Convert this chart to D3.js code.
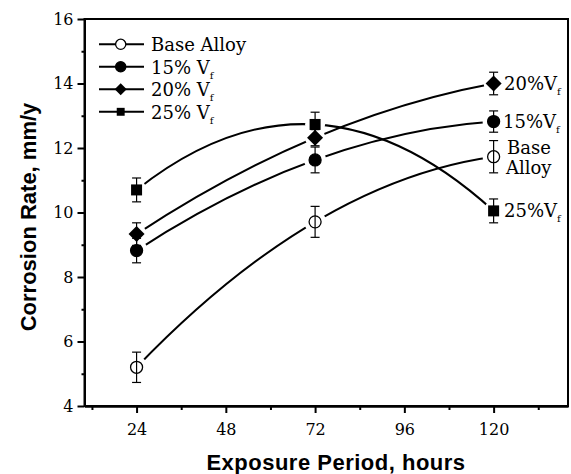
<!DOCTYPE html>
<html>
<head>
<meta charset="utf-8">
<script src="https://cdn.jsdelivr.net/npm/d3@7"></script>
<style>
  body { margin: 0; background: #fff; }
  svg { display: block; }
</style>
</head>
<body>
<svg id="chart" width="571" height="474"></svg>
<script>
// ---- data ----
const hours = [24, 72, 120];
const seriesNames = ["Base Alloy", "15% V", "20% V", "25% V"];
const endLabels = ["Base Alloy", "15%V", "20%V", "25%V"];
const baseAlloy = [5.2, 9.71, 11.73];
const baseAlloyErr = [0.47, 0.48, 0.5];
const vf15 = [8.82, 11.63, 12.82];
const vf15Err = [0.38, 0.4, 0.33];
const vf20 = [9.33, 12.32, 14.0];
const vf20Err = [0.35, 0.25, 0.35];
const vf25 = [10.7, 12.73, 10.05];
const vf25Err = [0.37, 0.38, 0.37];
const xMajorTicks = [24, 48, 72, 96, 120];
const xMinorTicks = [12, 36, 60, 84, 108, 132];
const yMajorTicks = [4, 6, 8, 10, 12, 14, 16];
const yMinorTicks = [5, 7, 9, 11, 13, 15];

const markerTypes = ["openCircle", "circle", "diamond", "square"];
const seriesValues = [baseAlloy, vf15, vf20, vf25];
const seriesErrs = [baseAlloyErr, vf15Err, vf20Err, vf25Err];

const svg = d3.select("#chart");
const x = d3.scaleLinear().domain([10, 140]).range([84.5, 568]);
const y = d3.scaleLinear().domain([4, 16]).range([406, 19]);

const serif = "'DejaVu Serif', serif";
const sans = "'Liberation Sans', Arial, sans-serif";

// quadratic (parabolic) curve through three points
function quadCurve(context) {
  let pts = [];
  return {
    areaStart() {}, areaEnd() {},
    lineStart() { pts = []; },
    point(px, py) { pts.push([+px, +py]); },
    lineEnd() {
      if (pts.length === 3) {
        const [p0, p1, p2] = pts;
        context.moveTo(p0[0], p0[1]);
        context.quadraticCurveTo(2 * p1[0] - (p0[0] + p2[0]) / 2,
                                 2 * p1[1] - (p0[1] + p2[1]) / 2, p2[0], p2[1]);
      } else {
        pts.forEach((p, i) => i ? context.lineTo(p[0], p[1]) : context.moveTo(p[0], p[1]));
      }
    }
  };
}

function drawMarker(g, type, cx, cy, s) {
  if (type === "openCircle" || type === "circle") {
    g.append("circle").attr("cx", cx).attr("cy", cy).attr("r", 6 * s)
      .attr("fill", type === "circle" ? "#000" : "#fff")
      .attr("stroke", "#000").attr("stroke-width", 1.3);
  } else if (type === "square") {
    const h = 5.5 * s;
    g.append("rect").attr("x", cx - h).attr("y", cy - h).attr("width", 2 * h).attr("height", 2 * h)
      .attr("fill", "#000");
  } else if (type === "diamond") {
    const h = 8 * s;
    g.append("path").attr("d", `M${cx},${cy - h}L${cx + h},${cy}L${cx},${cy + h}L${cx - h},${cy}Z`)
      .attr("fill", "#000");
  }
}

// ---- box ----
svg.append("rect").attr("x", x(10)).attr("y", y(16))
  .attr("width", x(140) - x(10)).attr("height", y(4) - y(16))
  .attr("fill", "none").attr("stroke", "#000").attr("stroke-width", 2);

// ---- axes ----
function styleAxis(g) {
  g.select(".domain").attr("stroke-width", 2);
  g.selectAll(".tick line").attr("stroke-width", 2);
  g.selectAll(".tick text").attr("font-family", serif).attr("font-size", 16).attr("fill", "#000");
}
svg.append("g").attr("transform", `translate(0,${y(4)})`)
  .call(d3.axisBottom(x).tickValues(xMinorTicks).tickSize(4).tickSizeOuter(0).tickFormat(""))
  .call(styleAxis);
svg.append("g").attr("transform", `translate(0,${y(4)})`)
  .call(d3.axisBottom(x).tickValues(xMajorTicks).tickSize(7).tickSizeOuter(0).tickPadding(11))
  .call(styleAxis);
svg.append("g").attr("transform", `translate(${x(10)},0)`)
  .call(d3.axisLeft(y).tickValues(yMinorTicks).tickSize(3).tickSizeOuter(0).tickFormat(""))
  .call(styleAxis);
svg.append("g").attr("transform", `translate(${x(10)},0)`)
  .call(d3.axisLeft(y).tickValues(yMajorTicks).tickSize(7).tickSizeOuter(0).tickPadding(4))
  .call(styleAxis);

// ---- axis titles ----
svg.append("text").attr("x", 336).attr("y", 470).attr("text-anchor", "middle")
  .attr("font-family", sans).attr("font-weight", "bold").attr("font-size", 22)
  .attr("letter-spacing", 0.5).text("Exposure Period, hours");
svg.append("text").attr("transform", "translate(36,217) rotate(-90)").attr("text-anchor", "middle")
  .attr("font-family", sans).attr("font-weight", "bold").attr("font-size", 22)
  .text("Corrosion Rate, mm/y");

// ---- curves with gaps around own markers ----
const defs = svg.append("defs");
const line = d3.line().x(d => x(d[0])).y(d => y(d[1])).curve(quadCurve);
seriesValues.forEach((vals, si) => {
  const m = defs.append("mask").attr("id", "m" + si).attr("maskUnits", "userSpaceOnUse")
    .attr("x", 0).attr("y", 0).attr("width", 571).attr("height", 474);
  m.append("rect").attr("width", 571).attr("height", 474).attr("fill", "#fff");
  const gap = markerTypes[si].includes("ircle") ? 11 : 10;
  hours.forEach((h, i) => m.append("circle").attr("cx", x(h)).attr("cy", y(vals[i])).attr("r", gap).attr("fill", "#000"));
  svg.append("path").datum(hours.map((h, i) => [h, vals[i]]))
    .attr("d", line).attr("fill", "none").attr("stroke", "#000").attr("stroke-width", 2)
    .attr("mask", `url(#m${si})`);
});

// ---- markers and error bars ----
seriesValues.forEach((vals, si) => {
  const g = svg.append("g");
  hours.forEach((h, i) => drawMarker(g, markerTypes[si], x(h), y(vals[i]), 1));
  hours.forEach((h, i) => {
    const e = seriesErrs[si][i], cx = x(h);
    const y1 = y(vals[i] + e), y2 = y(vals[i] - e);
    g.append("line").attr("x1", cx).attr("x2", cx).attr("y1", y1).attr("y2", y2)
      .attr("stroke", "#000").attr("stroke-width", 1.2);
    [y1, y2].forEach(yy => g.append("line").attr("x1", cx - 4.5).attr("x2", cx + 4.5)
      .attr("y1", yy).attr("y2", yy).attr("stroke", "#000").attr("stroke-width", 1.2));
  });
});

// ---- end labels ----
const endDx = [507, 503, 504, 504];
seriesValues.forEach((vals, si) => {
  const cy = y(vals[2]);
  if (si === 0) {
    const parts = endLabels[0].split(" ");
    svg.append("text").attr("x", endDx[0]).attr("y", cy - 3).attr("font-family", serif).attr("font-size", 18).text(parts[0]);
    svg.append("text").attr("x", endDx[0] - 1).attr("y", cy + 17).attr("font-family", serif).attr("font-size", 18).text(parts[1]);
  } else {
    const t = svg.append("text").attr("x", endDx[si]).attr("y", cy + 6.5).attr("font-family", serif).attr("font-size", 18);
    t.append("tspan").text(endLabels[si]);
    t.append("tspan").attr("font-size", 10).attr("dy", 5).text("f");
  }
});

// ---- legend ----
const legY = [44.3, 66.8, 89.3, 111.8];
seriesNames.forEach((name, si) => {
  const g = svg.append("g");
  g.append("line").attr("x1", 99).attr("x2", 144).attr("y1", legY[si]).attr("y2", legY[si])
    .attr("stroke", "#000").attr("stroke-width", 2);
  const s = markerTypes[si] === "square" ? 0.72 : (markerTypes[si] === "diamond" ? 0.75 : 0.85);
  drawMarker(g, markerTypes[si], 120.7, legY[si], s);
  const t = g.append("text").attr("x", 151).attr("y", legY[si] + 7).attr("font-family", serif).attr("font-size", 18);
  t.append("tspan").attr("xml:space", "preserve").text(name);
  if (si > 0) t.append("tspan").attr("font-size", 10).attr("dy", 5).text("f");
});
</script>
</body>
</html>
